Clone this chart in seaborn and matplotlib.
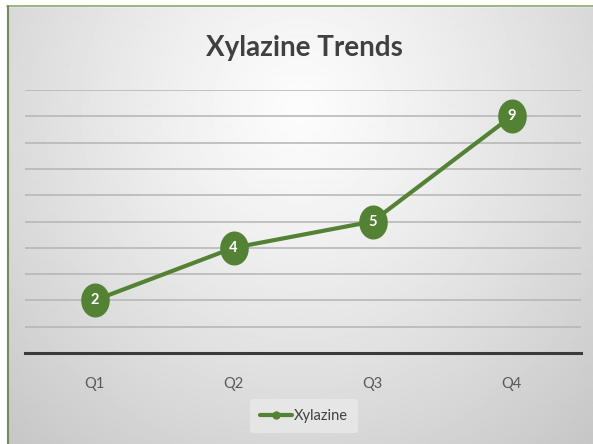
import numpy as np
import pandas as pd
import matplotlib
matplotlib.use("Agg")
import matplotlib.pyplot as plt
from matplotlib.path import Path
import seaborn as sns

quarters = ["Q1", "Q2", "Q3", "Q4"]
counts = [2, 4, 5, 9]
series_name = "Xylazine"
title = "Xylazine Trends"

GREEN = "#548235"
W, H = 593, 444

sns.set_theme(style="white")
plt.rcParams["font.family"] = ["Lato", "DejaVu Sans"]

fig = plt.figure(figsize=(W / 100, H / 100), dpi=100)

# soft radial background
bg = fig.add_axes([0, 0, 1, 1], zorder=-10)
yy, xx = np.mgrid[0:H, 0:W]
d = np.sqrt(((xx - 300) / 1.0) ** 2 + ((yy - 110) / 1.05) ** 2) / 444
shade = np.clip(252 - 56 * d ** 1.2, 190, 255) / 255
bg.imshow(shade, cmap="gray", vmin=0, vmax=1, extent=[0, W, H, 0], aspect="auto",
          interpolation="bilinear")
# white margin and green frame at top / left
bg.fill_between([0, W], 0, 6, color="white")
bg.fill_betweenx([0, H], 0, 7, color="white")
bg.plot([7, W], [6.5, 6.5], color="#8aa870", lw=1.2)
bg.plot([7.5, 7.5], [6, H], color="#6f8f5a", lw=1.5)
bg.set_xlim(0, W)
bg.set_ylim(H, 0)
bg.axis("off")

ax = fig.add_axes([25 / W, 1 - 353 / H, 556 / W, (353 - 90) / H])
ax.patch.set_alpha(0)

df = pd.DataFrame({"quarter": quarters, "count": counts, "series": series_name})
x = np.arange(len(quarters))
df["x"] = x

theta = np.linspace(0, 2 * np.pi, 60)
ellipse = Path(np.column_stack([np.cos(theta) * 0.84, np.sin(theta)]), closed=True)

sns.lineplot(data=df, x="x", y="count", ax=ax, color=GREEN, lw=3.0,
             marker=ellipse, markersize=24.5, markeredgewidth=0,
             markerfacecolor=GREEN, label=series_name, legend=False, zorder=3)

for xi, v in zip(x, counts):
    ax.text(xi, v, str(v), ha="center", va="center", color="white",
            fontsize=10.5, fontweight="bold", zorder=4)

ax.set_xlim(-0.5, 3.5)
ax.set_ylim(0, 10)
ax.set_yticks(range(1, 11))
ax.yaxis.grid(True, color="#b4b4b4", lw=1.1)
ax.set_axisbelow(True)
ax.tick_params(axis="y", left=False, labelleft=False)
ax.set_xticks(x)
ax.set_xticklabels(quarters, fontsize=10.5, color="#595959")
ax.tick_params(axis="x", bottom=False, pad=11)
for s in ["top", "right", "left"]:
    ax.spines[s].set_visible(False)
ax.spines["bottom"].set_color("#3a3a3a")
ax.spines["bottom"].set_linewidth(2.2)
ax.set_xlabel("")
ax.set_ylabel("")

fig.text(304 / W, 1 - 48 / H, title, ha="center", va="center",
         fontsize=20, fontweight="bold", color="#404040")

handle = plt.Line2D([], [], color=GREEN, lw=3.0, marker="o", markersize=6,
                    markeredgewidth=0)
leg = fig.legend([handle], [series_name], loc="center",
                 bbox_to_anchor=(304 / W, 1 - 416 / H), frameon=True,
                 fontsize=10.5, handlelength=2.2, handletextpad=0.1,
                 borderpad=0.7)
leg.get_frame().set_facecolor("#e9e9e9")
leg.get_frame().set_edgecolor("none")
leg.get_frame().set_alpha(0.8)
for t in leg.get_texts():
    t.set_color("#404040")

fig.savefig("out.png", dpi=100)
